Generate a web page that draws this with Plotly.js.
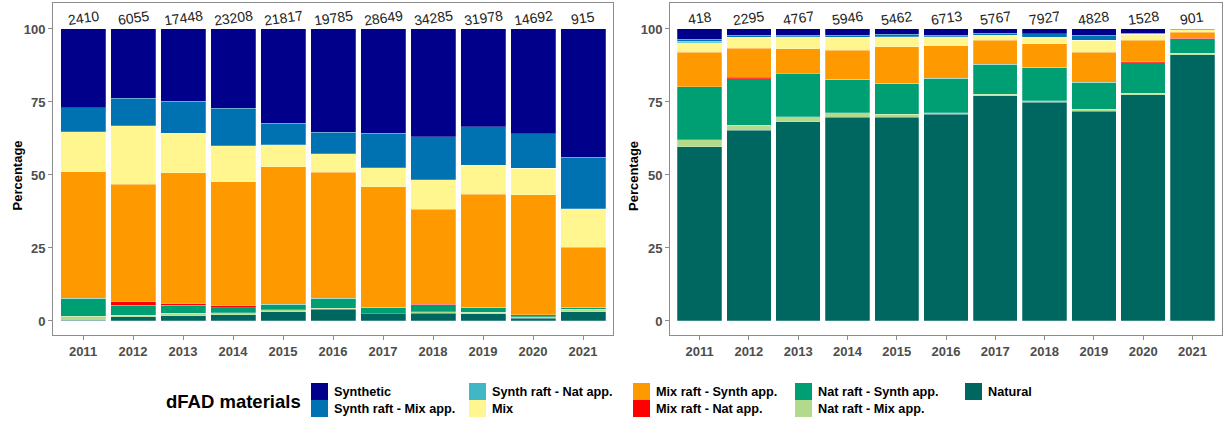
<!DOCTYPE html>
<html><head><meta charset="utf-8">
<script src="https://cdn.plot.ly/plotly-3.0.1.min.js"></script>
<style>html,body{margin:0;padding:0;background:#fff}</style>
</head><body><div id="chart" style="width:1225px;height:421px"></div>
<script>
const years = ['2011','2012','2013','2014','2015','2016','2017','2018','2019','2020','2021'];
const materials = ['Synthetic','Synth raft - Mix app.','Synth raft - Nat app.','Mix','Mix raft - Synth app.','Mix raft - Nat app.','Nat raft - Synth app.','Nat raft - Mix app.','Natural'];
const colors = ['#00008B','#0072B2','#41B6C4','#FFF68F','#FF9900','#FF0000','#009E73','#B2D98C','#006660'];

// Left panel (percentages)
const leftSynthetic = [26.9, 23.7, 24.7, 27.2, 32.3, 35.4, 35.7, 36.9, 33.4, 35.8, 43.9];
const leftSynthMix  = [8.3, 9.5, 11.0, 12.8, 7.4, 7.4, 11.8, 14.8, 13.2, 11.9, 17.6];
const leftSynthNat  = [0, 0, 0, 0, 0, 0, 0, 0, 0, 0, 0];
const leftMix       = [13.7, 19.9, 13.5, 12.3, 7.4, 6.2, 6.5, 10.1, 10.0, 9.0, 13.3];
const leftMixSynth  = [43.3, 40.3, 44.9, 42.45, 47.1, 43.2, 41.3, 32.4, 38.7, 41.1, 20.5];
const leftMixNat    = [0, 1.2, 0.5, 0.65, 0, 0, 0, 0.3, 0, 0, 0];
const leftNatSynth  = [6.1, 3.35, 2.8, 1.7, 2.0, 3.5, 2.2, 2.3, 1.7, 0.8, 0.7];
const leftNatMix    = [1.5, 0.55, 0.8, 0.7, 0.7, 0.3, 0.1, 0.6, 0.6, 0.5, 0.9];
const leftNatural   = [0.2, 1.5, 1.8, 2.2, 3.1, 4.0, 2.4, 2.6, 2.4, 0.9, 3.1];
const leftCounts    = [2410, 6055, 17448, 23208, 21817, 19785, 28649, 34285, 31978, 14692, 915];

// Right panel (percentages)
const rightSynthetic = [3.5, 2.1, 2.1, 2.1, 1.8, 2.1, 1.5, 1.7, 2.1, 1.5, 0];
const rightSynthMix  = [0.7, 0.8, 0.5, 0.8, 0.8, 0.5, 0.6, 1.2, 1.7, 0.3, 0];
const rightSynthNat  = [0.5, 0, 0, 0, 0, 0, 0, 0, 0, 0, 0.3];
const rightMix       = [3.3, 3.7, 4.2, 4.3, 3.4, 3.2, 1.7, 2.2, 4.2, 2.0, 0.8];
const rightMixSynth  = [11.7, 10.0, 8.6, 10.0, 12.6, 11.1, 8.3, 8.0, 10.3, 7.4, 2.1];
const rightMixNat    = [0, 0.5, 0, 0, 0, 0, 0, 0, 0, 0.4, 0.2];
const rightNatSynth  = [18.3, 15.8, 14.6, 11.5, 10.6, 11.8, 10.2, 11.4, 9.2, 10.4, 4.9];
const rightNatMix    = [2.4, 1.7, 1.7, 1.6, 1.1, 0.5, 0.6, 0.6, 0.6, 0.6, 0.6];
const rightNatural   = [59.6, 65.4, 68.3, 69.7, 69.7, 70.8, 77.1, 74.9, 71.9, 77.4, 91.1];
const rightCounts    = [418, 2295, 4767, 5946, 5462, 6713, 5767, 7927, 4828, 1528, 901];

const leftSeries  = [leftSynthetic, leftSynthMix, leftSynthNat, leftMix, leftMixSynth, leftMixNat, leftNatSynth, leftNatMix, leftNatural];
const rightSeries = [rightSynthetic, rightSynthMix, rightSynthNat, rightMix, rightMixSynth, rightMixNat, rightNatSynth, rightNatMix, rightNatural];

const W = 1225, H = 421;
const px = v => v / W, py = v => 1 - v / H;
const FONT = 'Liberation Sans, Arial, sans-serif';

const traces = [];
// bottom of stack first
for (let i = materials.length - 1; i >= 0; i--) {
  traces.push({type:'bar', x: years, y: leftSeries[i], name: materials[i], xaxis:'x', yaxis:'y',
    marker:{color: colors[i], line:{color:'rgba(255,255,255,0.6)', width:0.4}}, showlegend:false, hoverinfo:'skip'});
}
for (let i = materials.length - 1; i >= 0; i--) {
  traces.push({type:'bar', x: years, y: rightSeries[i], name: materials[i], xaxis:'x2', yaxis:'y2',
    marker:{color: colors[i], line:{color:'rgba(255,255,255,0.6)', width:0.4}}, showlegend:false, hoverinfo:'skip'});
}

const annotations = [];
const labelY = 103.8;
years.forEach((yr, k) => {
  annotations.push({xref:'x', yref:'y', x: k, y: labelY, text: String(leftCounts[k]), showarrow:false, textangle:-8,
    xanchor:'center', yanchor:'middle', font:{family:FONT, size:14, color:'#222'}});
  annotations.push({xref:'x2', yref:'y2', x: k, y: labelY, text: String(rightCounts[k]), showarrow:false, textangle:-8,
    xanchor:'center', yanchor:'middle', font:{family:FONT, size:14, color:'#222'}});
});
// y-axis titles
[16.5, 633].forEach(xx => annotations.push({xref:'paper', yref:'paper', x: px(xx), y: py(176), text:'Percentage', textangle:-90,
  showarrow:false, xanchor:'center', yanchor:'middle', font:{family:FONT, size:13, color:'#000', weight:'bold'}}));

// manual legend (column-major, 2 rows)
const shapes = [];
const keyX = [311, 469, 633, 795, 965];
annotations.push({xref:'paper', yref:'paper', x: px(164), y: py(401), text:'dFAD materials', showarrow:false,
  xanchor:'left', yanchor:'middle', font:{family:FONT, size:18.5, color:'#000', weight:'bold'}});
materials.forEach((m, i) => {
  const c = Math.floor(i / 2), r = i % 2;
  const x0 = keyX[c], y0 = 383 + 17 * r;
  shapes.push({type:'rect', xref:'paper', yref:'paper', x0: px(x0), x1: px(x0 + 17), y0: py(y0 + 17), y1: py(y0),
    fillcolor: colors[i], line:{width:0}});
  annotations.push({xref:'paper', yref:'paper', x: px(x0 + 21), y: py(y0 + 8.5), text: m, showarrow:false,
    xanchor:'left', yanchor:'middle', font:{family:FONT, size:12.7, color:'#000', weight:'bold'}});
});

const axisX = {type:'category', range:[-0.6, 10.6], showgrid:false, showline:true, linecolor:'#8c8c8c', linewidth:1, mirror:true,
  ticks:'outside', ticklen:4, tickcolor:'#8c8c8c', tickfont:{family:FONT, size:13, color:'#4d4d4d', weight:'bold'}, fixedrange:true};
const axisY = {range:[-4.8, 108.9], tickvals:[0,25,50,75,100], showgrid:false, zeroline:false, showline:true, linecolor:'#8c8c8c',
  linewidth:1, mirror:true, ticks:'outside', ticklen:4, tickcolor:'#8c8c8c', tickfont:{family:FONT, size:13, color:'#4d4d4d', weight:'bold'}, fixedrange:true};

const layout = {
  width: W, height: H, autosize:false,
  margin:{l:0, r:0, t:0, b:0},
  paper_bgcolor:'#fff', plot_bgcolor:'#fff',
  barmode:'stack', bargap:0.1,
  showlegend:false,
  xaxis: Object.assign({}, axisX, {domain:[px(53), px(613)], anchor:'y'}),
  yaxis: Object.assign({}, axisY, {domain:[py(335), py(3)], anchor:'x'}),
  xaxis2: Object.assign({}, axisX, {domain:[px(670), px(1222)], anchor:'y2'}),
  yaxis2: Object.assign({}, axisY, {domain:[py(335), py(3)], anchor:'x2'}),
  annotations, shapes
};
Plotly.newPlot('chart', traces, layout, {staticPlot:true, displayModeBar:false});
</script></body></html>
